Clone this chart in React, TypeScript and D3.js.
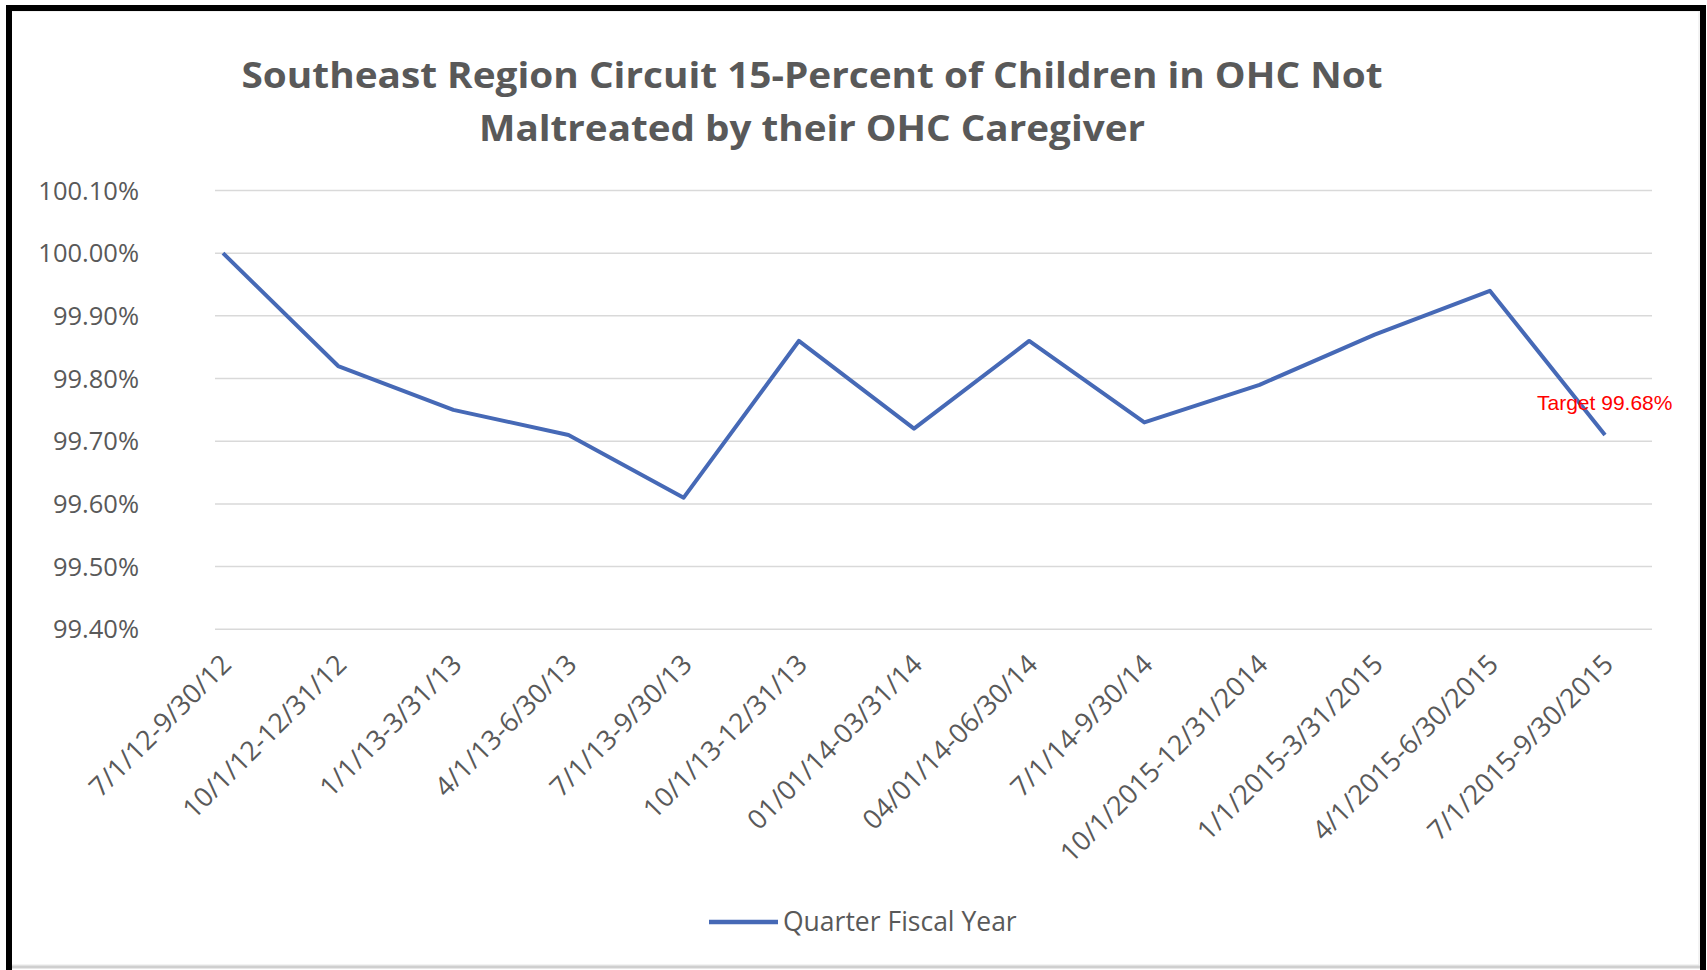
import React from "react";
import * as d3 from "d3";

const titleLines = [
  "Southeast Region Circuit 15-Percent of Children in OHC Not",
  "Maltreated by their OHC Caregiver",
];

const categories = [
  "7/1/12-9/30/12",
  "10/1/12-12/31/12",
  "1/1/13-3/31/13",
  "4/1/13-6/30/13",
  "7/1/13-9/30/13",
  "10/1/13-12/31/13",
  "01/01/14-03/31/14",
  "04/01/14-06/30/14",
  "7/1/14-9/30/14",
  "10/1/2015-12/31/2014",
  "1/1/2015-3/31/2015",
  "4/1/2015-6/30/2015",
  "7/1/2015-9/30/2015",
];

const values = [100.0, 99.82, 99.75, 99.71, 99.61, 99.86, 99.72, 99.86, 99.73, 99.79, 99.87, 99.94, 99.71];

const yTicks = [100.1, 100.0, 99.9, 99.8, 99.7, 99.6, 99.5, 99.4];
const yTickLabels = ["100.10%", "100.00%", "99.90%", "99.80%", "99.70%", "99.60%", "99.50%", "99.40%"];

const seriesName = "Quarter Fiscal Year";
const targetLabel = "Target 99.68%";

const W = 1707;
const H = 970;
const FONT = "'Open Sans', 'Noto Sans', sans-serif";
const GRAY = "#595959";
const BLUE = "#4669b6";

export default function App() {
  const x = d3.scalePoint<string>().domain(categories).range([223, 1605]);
  const y = d3.scaleLinear().domain([99.4, 100.1]).range([629.3, 190.5]);
  const line = d3
    .line<number>()
    .x((_, i) => x(categories[i]) as number)
    .y((d) => y(d));

  return (
    <svg
      width={W}
      height={H}
      style={{ position: "absolute", left: 0, top: 0, display: "block", background: "#fff" }}
    >
      {/* outer frame */}
      <rect x={11} y={11} width={1688} height={954} fill="#fff" stroke="#e6e6e6" strokeWidth={1} />
      <line x1={9} y1={8} x2={9} y2={970} stroke="#000" strokeWidth={6} />
      <line x1={6} y1={8} x2={1706} y2={8} stroke="#000" strokeWidth={6} />
      <line x1={1703} y1={5} x2={1703} y2={970} stroke="#000" strokeWidth={6} />
      <line x1={12} y1={967} x2={1700} y2={967} stroke="#cfcfcf" strokeWidth={3} />

      {/* title */}
      <text
        x={812}
        y={88}
        textAnchor="middle"
        fontFamily={FONT}
        fontWeight={700}
        fontSize={35}
        fill={GRAY}
        textLength={1141}
        lengthAdjust="spacingAndGlyphs"
      >
        {titleLines[0]}
      </text>
      <text
        x={812}
        y={141}
        textAnchor="middle"
        fontFamily={FONT}
        fontWeight={700}
        fontSize={35}
        fill={GRAY}
        textLength={666}
        lengthAdjust="spacingAndGlyphs"
      >
        {titleLines[1]}
      </text>

      {/* gridlines and y labels */}
      {yTicks.map((t, i) => (
        <g key={t}>
          <line x1={215} x2={1652} y1={y(t)} y2={y(t)} stroke="#d9d9d9" strokeWidth={1.5} />
          <text
            x={139}
            y={y(t)}
            dy="0.36em"
            textAnchor="end"
            fontFamily={FONT}
            fontSize={25.5}
            fill={GRAY}
          >
            {yTickLabels[i]}
          </text>
        </g>
      ))}

      {/* x labels */}
      {categories.map((c) => {
        const ax = (x(c) as number) + 10;
        const ay = 666;
        return (
          <text
            key={c}
            x={ax}
            y={ay}
            transform={`rotate(-45 ${ax} ${ay})`}
            textAnchor="end"
            fontFamily={FONT}
            fontSize={27}
            fill={GRAY}
          >
            {c}
          </text>
        );
      })}

      {/* series */}
      <path d={line(values) || ""} fill="none" stroke={BLUE} strokeWidth={4} strokeLinejoin="round" />

      {/* target label */}
      <text x={1537} y={410} fontFamily="'Liberation Sans', Arial, sans-serif" fontSize={21} fill="#ff0000">
        {targetLabel}
      </text>

      {/* legend */}
      <line x1={709} x2={778} y1={922} y2={922} stroke={BLUE} strokeWidth={4.5} />
      <text x={783} y={931} fontFamily={FONT} fontSize={26.5} fill={GRAY}>
        {seriesName}
      </text>
    </svg>
  );
}
